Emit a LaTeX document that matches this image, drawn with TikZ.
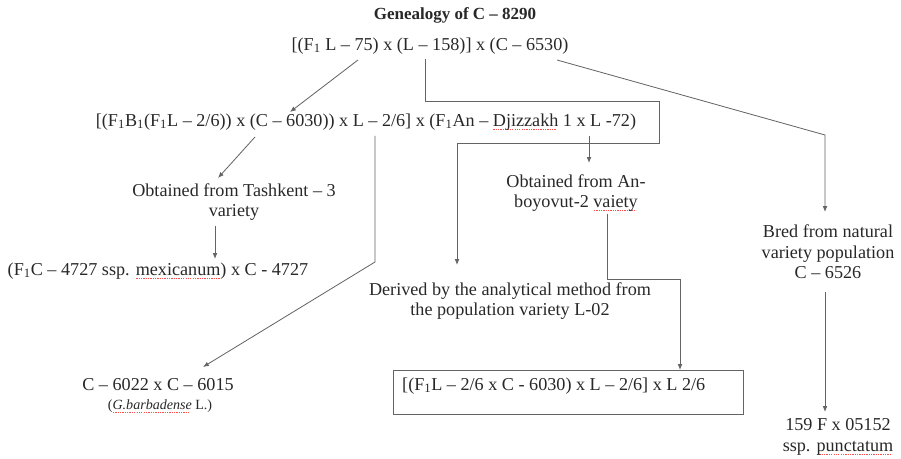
\documentclass[tikz,border=0pt]{standalone}
\usepackage{fontspec}
\setmainfont{Liberation Serif}
\usetikzlibrary{arrows.meta}
\definecolor{inkgray}{RGB}{40,40,40}
\definecolor{wiregray}{RGB}{100,100,100}
\newsavebox{\spellbox}
\newcommand{\spell}[1]{\sbox{\spellbox}{#1}\rlap{\textcolor{red!70}{\raisebox{-3pt}{\leaders\hbox to 2pt{\hss\rule{1.1pt}{0.6pt}\hss}\hskip\wd\spellbox}}}\usebox{\spellbox}}
\newcommand{\one}{\textsubscript{1}}
\tikzset{
  gtext/.style={inner sep=0pt, text=inkgray, align=center,
                font=\fontsize{15.5}{17.5}\selectfont},
  link/.style={wiregray, line width=0.7pt},
  linkarrow/.style={link, -{Latex[length=5pt,width=4pt]}},
}

\begin{document}
\begin{tikzpicture}[x=0.03cm,y=-0.03cm]
  \useasboundingbox (0,0) rectangle (901,459);
  % Title and the two cross lines
  \node[gtext,font=\fontsize{14.5}{18}\selectfont\bfseries] (title) at (455,15) {Genealogy of C – 8290};
  \node[gtext] (top) at (430,46) {[(F\one{} L – 75) x (L – 158)] x (C – 6530)};
  \node[gtext] (cross) at (366,122) {[(F\one B\one(F\one L – 2/6)) x (C – 6030)) x L – 2/6] x (F\one An – \spell{Djizzakh} 1 x L -72)};
  % Left branch
  \node[gtext] (tash) at (234,202) {Obtained from Tashkent – 3\\variety};
  \node[gtext] (mexi) at (158,271) {(F\one C – 4727 ssp. \spell{mexicanum}) x C - 4727};
  \node[gtext] (barb) at (158,385) {C – 6022 x C – 6015};
  \node[gtext,font=\fontsize{12}{14}\selectfont] (barbsp) at (160,406) {(\spell{\textit{G.barbadense}} L.)};
  % Middle branch
  \node[gtext] (anbo) at (576,193) {Obtained from An-\\boyovut-2 \spell{vaiety}};
  \node[gtext] (deriv) at (510,301) {Derived by the analytical method from\\the population variety L-02};
  \node[draw=wiregray, line width=0.7pt, minimum width=350*0.03cm, minimum height=44*0.03cm,
        anchor=north west, inner sep=0pt] (mixbox) at (393,370) {};
  \node[gtext, anchor=west] (mixtext) at (402,386) {[(F\one L – 2/6 x C - 6030) x L – 2/6] x L 2/6};
  % Right branch
  \node[gtext] (bred) at (828,252) {Bred from natural\\variety population\\C – 6526};
  \node[gtext] (final) at (838,437) {159 F x 05152\\ssp. \spell{punctatum}};
  % Connector ends on the text lines
  \coordinate (t75) at (358,60);
  \coordinate (tmid) at (425,59);
  \coordinate (t6530) at (557,60);
  \coordinate (c1) at (290,112);
  \coordinate (c2) at (255,137);
  \coordinate (c3) at (375,136);
  \coordinate (c4) at (589,136);
  \coordinate (bend) at (375,262);
  \coordinate (anbend) at (607,279);
  % Connectors
  \draw[linkarrow] (t75) -- (c1);
  \draw[linkarrow] (tmid) -- (425,101) -- (659,101) -- (659,143) -- (457,143) -- (457,265);
  \draw[linkarrow] (t6530) -- (825,135) -- (825,212);
  \draw[linkarrow] (c2) -- (218,178);
  \draw[linkarrow] (215,226) -- (215,259);
  \draw[linkarrow] (c3) -- (bend) -- (203,367);
  \draw[linkarrow] (c4) -- (589,163);
  \draw[linkarrow] (607,214) -- (anbend) -- (680,279) -- (680,370);
  \draw[linkarrow] (825,292) -- (825,412);
\end{tikzpicture}
\end{document}
